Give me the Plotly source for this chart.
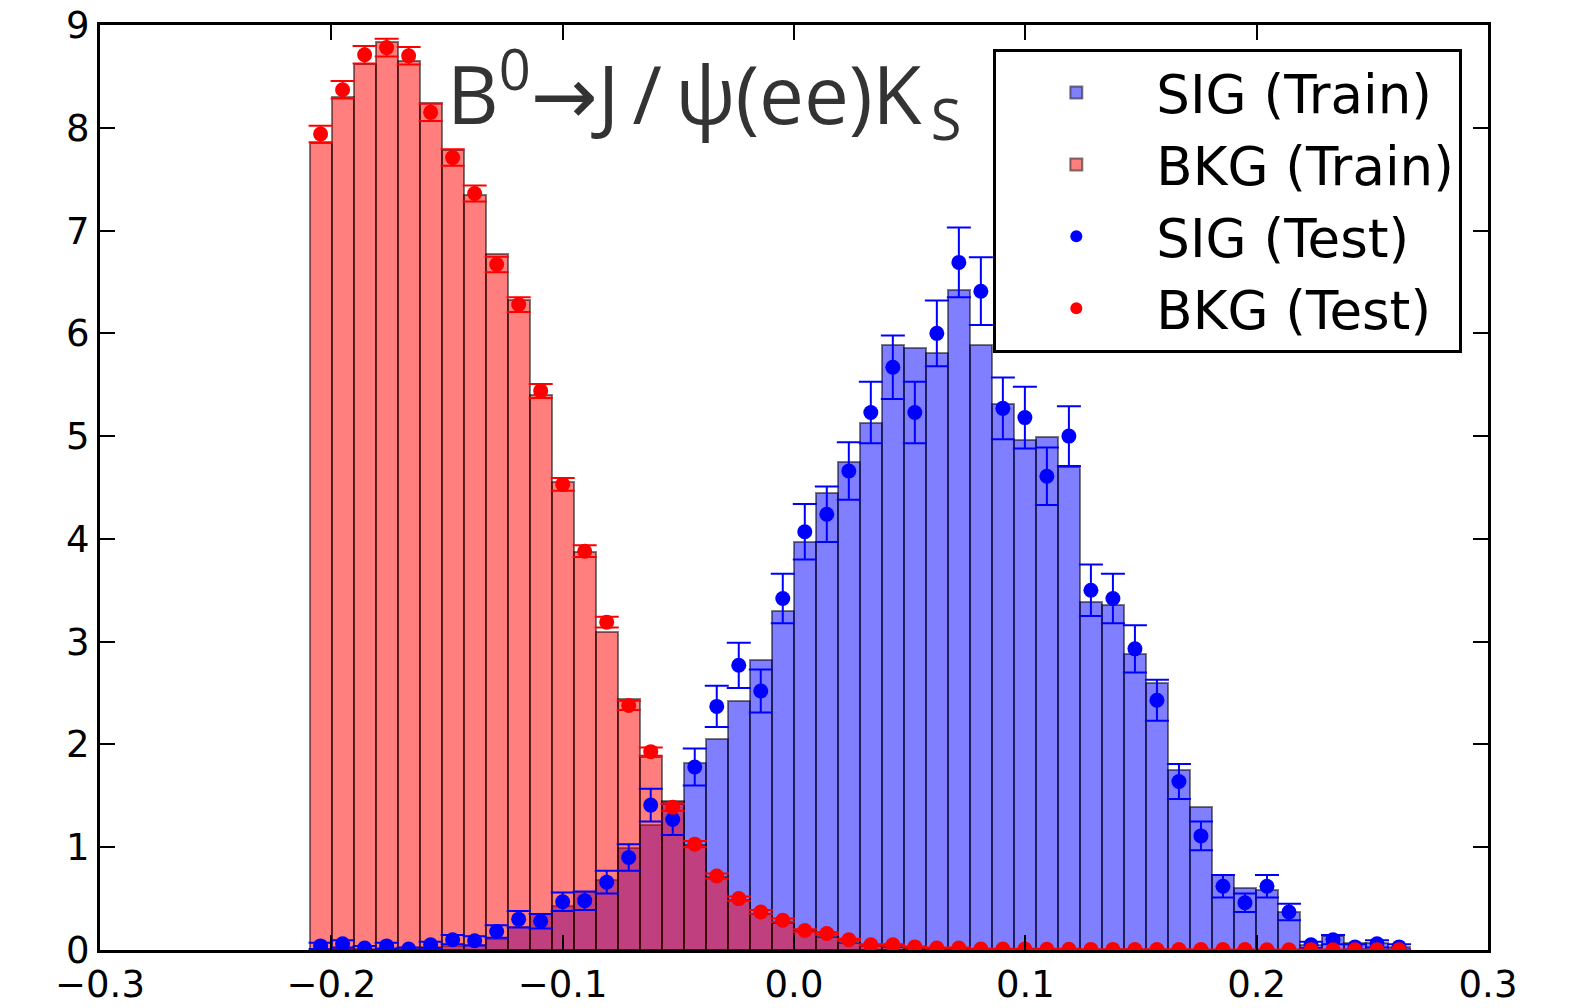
import numpy as np
import plotly.graph_objects as go

# ---- data ----
bin_lo, bin_hi, n_bins = -0.2094, 0.2663, 50

sig_train = [0.01, 0.02, 0.01, 0.02, 0.01, 0.03, 0.04, 0.05, 0.11, 0.22,
             0.35, 0.43, 0.56, 0.68, 0.99, 1.22, 1.44, 1.82, 2.05, 2.42,
             2.82, 3.30, 3.97, 4.45, 4.75, 5.13, 5.89, 5.86, 5.81, 6.42,
             5.89, 5.31, 4.96, 4.99, 4.70, 3.39, 3.36, 2.88, 2.60, 1.75,
             1.39, 0.73, 0.60, 0.58, 0.37, 0.05, 0.14, 0.07, 0.07, 0.03]

bkg_train = [7.85, 8.30, 8.62, 8.83, 8.65, 8.24, 7.78, 7.35, 6.77, 6.32,
             5.40, 4.55, 3.87, 3.09, 2.44, 1.88, 1.45, 1.02, 0.71, 0.49,
             0.35, 0.26, 0.19, 0.13, 0.07, 0.04, 0.03, 0.02, 0.01, 0.01,
             0.01, 0.005, 0.005, 0.005, 0.004, 0.004, 0.003, 0.003, 0.003, 0.002,
             0.002, 0.002, 0.002, 0.002, 0.001, 0.001, 0.001, 0.001, 0.001, 0.001]

sig_test = [0.04, 0.06, 0.02, 0.04, 0.01, 0.05, 0.10, 0.09, 0.18, 0.30,
            0.28, 0.47, 0.48, 0.66, 0.90, 1.41, 1.27, 1.78, 2.37, 2.77,
            2.52, 3.42, 4.07, 4.24, 4.66, 5.23, 5.67, 5.23, 6.00, 6.69,
            6.41, 5.27, 5.18, 4.61, 5.00, 3.50, 3.42, 2.93, 2.43, 1.64,
            1.11, 0.62, 0.46, 0.62, 0.37, 0.05, 0.10, 0.03, 0.06, 0.03]

sig_test_err = [0.03, 0.035, 0.02, 0.03, 0.015, 0.03, 0.045, 0.045, 0.06, 0.08,
                0.07, 0.09, 0.09, 0.11, 0.13, 0.16, 0.15, 0.18, 0.20, 0.22,
                0.21, 0.24, 0.27, 0.27, 0.28, 0.30, 0.31, 0.30, 0.32, 0.34,
                0.33, 0.30, 0.30, 0.28, 0.29, 0.25, 0.24, 0.23, 0.20, 0.17,
                0.14, 0.11, 0.09, 0.11, 0.08, 0.03, 0.045, 0.025, 0.035, 0.025]

bkg_test = [7.94, 8.37, 8.71, 8.78, 8.70, 8.15, 7.71, 7.36, 6.67, 6.28,
            5.44, 4.53, 3.88, 3.19, 2.38, 1.93, 1.39, 1.03, 0.72, 0.50,
            0.37, 0.29, 0.19, 0.16, 0.10, 0.05, 0.05, 0.03, 0.02, 0.02,
            0.01, 0.01, 0.01, 0.008, 0.008, 0.006, 0.006, 0.005, 0.005, 0.005,
            0.004, 0.004, 0.004, 0.003, 0.003, 0.003, 0.003, 0.002, 0.002, 0.002]

bkg_test_err = [0.080, 0.085, 0.085, 0.086, 0.085, 0.083, 0.080, 0.078, 0.075, 0.072,
                0.068, 0.062, 0.057, 0.052, 0.045, 0.040, 0.034, 0.030, 0.025, 0.021,
                0.018, 0.016, 0.013, 0.012, 0.010, 0.007, 0.007, 0.005, 0.004, 0.004,
                0.003, 0.003, 0.003, 0.003, 0.003, 0.002, 0.002, 0.002, 0.002, 0.002,
                0.002, 0.002, 0.002, 0.002, 0.002, 0.002, 0.002, 0.001, 0.001, 0.001]

x_ticks = [-0.3, -0.2, -0.1, 0.0, 0.1, 0.2, 0.3]
y_ticks = [0, 1, 2, 3, 4, 5, 6, 7, 8, 9]
title_text = ("B<sup>0</sup><span style='font-family:DejaVu Sans'>→</span>"
              "J\u2009/\u2009ψ(ee)K<sub>\u2009S</sub>")
labels = ["SIG (Train)", "BKG (Train)", "SIG (Test)", "BKG (Test)"]

# ---- figure ----
edges = np.linspace(bin_lo, bin_hi, n_bins + 1)
centers = 0.5 * (edges[:-1] + edges[1:])
width = edges[1] - edges[0]

fig = go.Figure()
fig.add_trace(go.Bar(x=centers, y=sig_train, width=width, name=labels[0],
                     marker=dict(color="rgba(0,0,255,0.5)",
                                 line=dict(color="rgba(0,0,0,0.5)", width=2))))
fig.add_trace(go.Bar(x=centers, y=bkg_train, width=width, name=labels[1],
                     marker=dict(color="rgba(255,0,0,0.5)",
                                 line=dict(color="rgba(0,0,0,0.5)", width=2))))
fig.add_trace(go.Scatter(x=centers, y=sig_test, mode="markers", name=labels[2],
                         marker=dict(color="#0000ff", size=15),
                         error_y=dict(type="data", array=sig_test_err, color="#0000ff",
                                      thickness=2, width=12)))
fig.add_trace(go.Scatter(x=centers, y=bkg_test, mode="markers", name=labels[3],
                         marker=dict(color="#ff0000", size=15),
                         error_y=dict(type="data", array=bkg_test_err, color="#ff0000",
                                      thickness=2, width=12)))

axis_common = dict(showline=True, linecolor="black", linewidth=3, mirror="ticks",
                   ticks="inside", ticklen=15, tickwidth=2, tickcolor="black",
                   showgrid=False, zeroline=False, automargin=False,
                   ticklabeloverflow="allow",
                   tickfont=dict(family="DejaVu Sans", size=37, color="black"))

fig.update_xaxes(range=[-0.3, 0.3], tickvals=x_ticks, tickformat=".1f", **axis_common)
fig.update_yaxes(range=[0, 9], tickvals=y_ticks, **axis_common)

fig.add_annotation(text=title_text, xref="paper", yref="paper",
                   x=0.2485, y=0.927, xanchor="left", yanchor="middle",
                   showarrow=False,
                   font=dict(family="Open Sans", size=80, color="#333333"))

# page body has an 8px margin, so the figure is 8px smaller than the window
fig.update_layout(
    width=1561, height=1000,
    margin=dict(l=92, r=81, t=17, b=58),
    paper_bgcolor="white", plot_bgcolor="white",
    barmode="overlay", bargap=0,
    showlegend=True,
    legend=dict(x=0.9815, y=0.9745, xanchor="right", yanchor="top",
                bordercolor="black", borderwidth=3, bgcolor="white",
                font=dict(family="DejaVu Sans", size=53, color="black"),
                itemwidth=150, itemsizing="constant", traceorder="normal"),
)

fig.write_html("out.html")
